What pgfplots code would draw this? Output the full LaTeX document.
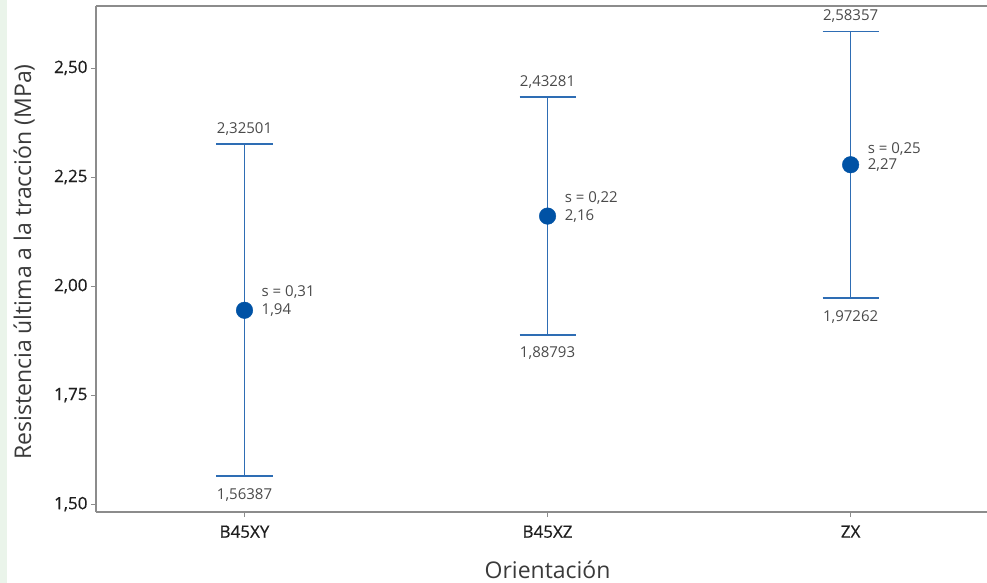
\documentclass[border=0pt]{standalone}
\usepackage{pgfplots}
\pgfplotsset{compat=1.18}
\usepackage{pgfplotstable}
\usepackage{fontspec}
\setmainfont{Open Sans}
\newfontfamily\tickfont{Open Sans}[FakeBold=0.6]
\definecolor{barblue}{HTML}{2E6DB4}
\definecolor{ptblue}{HTML}{0052A5}
\definecolor{axgray}{HTML}{8C8C8C}
\definecolor{anno}{HTML}{4A4A4A}
\definecolor{labgray}{HTML}{3A3A3A}
\definecolor{ticktxt}{HTML}{1E1E1E}
\definecolor{greenbg}{HTML}{EAF4EA}

% mean and 95% interval limits
\pgfplotstableread{
x mean lo hi
0 1.94444 1.56387 2.32501
1 2.16037 1.88793 2.43281
2 2.278095 1.97262 2.58357
}\datatab

\begin{document}
\begin{tikzpicture}
\begin{axis}[
  scale only axis,
  width=891bp, height=506bp,
  xmin=-0.49, xmax=2.45,
  ymin=1.482, ymax=2.642,
  axis x line=box, axis y line=left,
  axis line style={-, axgray, line width=1.1bp},
  tick pos=left, tick align=outside,
  major tick length=5bp,
  tick style={axgray, line width=0.8bp},
  xtick={0,1,2},
  xticklabels={B45XY,B45XZ,ZX},
  ytick={1.50,1.75,2.00,2.25,2.50},
  yticklabel style={/pgf/number format/.cd, fixed, fixed zerofill, precision=2, use comma, assume math mode=true},
  ticklabel style={font=\tickfont\fontsize{17bp}{19bp}\selectfont, text=ticktxt},
  xticklabel style={yshift=-5bp},
  xlabel={Orientación},
  ylabel={Resistencia última a la tracción (MPa)},
  label style={font=\fontsize{23bp}{26bp}\selectfont, text=labgray},
  xlabel style={at={(axis description cs:0.5068,-0.1146)}, anchor=center},
  ylabel style={at={(axis description cs:-0.0808,0.494)}, anchor=center},
  clip=false,
]
% interval lines
\addplot[barblue, line width=1.6bp, forget plot] coordinates {(0,1.56387) (0,2.32501)};
\addplot[barblue, line width=1.6bp, forget plot] coordinates {(1,1.88793) (1,2.43281)};
\addplot[barblue, line width=1.6bp, forget plot] coordinates {(2,1.97262) (2,2.58357)};
% caps
\addplot[barblue, line width=1.6bp, forget plot] coordinates {(-0.0924,2.32501) (0.0924,2.32501)};
\addplot[barblue, line width=1.6bp, forget plot] coordinates {(-0.0924,1.56387) (0.0924,1.56387)};
\addplot[barblue, line width=1.6bp, forget plot] coordinates {(0.9076,2.43281) (1.0924,2.43281)};
\addplot[barblue, line width=1.6bp, forget plot] coordinates {(0.9076,1.88793) (1.0924,1.88793)};
\addplot[barblue, line width=1.6bp, forget plot] coordinates {(1.9076,2.58357) (2.0924,2.58357)};
\addplot[barblue, line width=1.6bp, forget plot] coordinates {(1.9076,1.97262) (2.0924,1.97262)};
% means
\addplot[only marks, mark=*, mark size=8.3bp, mark options={fill=ptblue, draw=ptblue}] table[x=x, y=mean] {\datatab};

\begin{scope}[every node/.style={font=\fontsize{15bp}{17bp}\selectfont, text=anno, inner sep=1bp}]
\node[anchor=south, yshift=8bp] at (axis cs:0,2.32501) {2,32501};
\node[anchor=north, yshift=-11bp] at (axis cs:0,1.56387) {1,56387};
\node[anchor=west, xshift=16bp] at (axis cs:0,1.94444) {1,94};
\node[anchor=west, xshift=16bp, yshift=18bp] at (axis cs:0,1.94444) {s = 0,31};

\node[anchor=south, yshift=8bp] at (axis cs:1,2.43281) {2,43281};
\node[anchor=north, yshift=-11bp] at (axis cs:1,1.88793) {1,88793};
\node[anchor=west, xshift=16bp] at (axis cs:1,2.16037) {2,16};
\node[anchor=west, xshift=16bp, yshift=18bp] at (axis cs:1,2.16037) {s = 0,22};

\node[anchor=south, yshift=8bp] at (axis cs:2,2.58357) {2,58357};
\node[anchor=north, yshift=-11bp] at (axis cs:2,1.97262) {1,97262};
\node[anchor=west, xshift=16bp] at (axis cs:2,2.278095) {2,27};
\node[anchor=west, xshift=16bp, yshift=16bp] at (axis cs:2,2.278095) {s = 0,25};
\end{scope}

\coordinate (BL) at (rel axis cs:0,0);
\coordinate (TR) at (rel axis cs:1,1);
\end{axis}
\fill[greenbg] (BL) ++(-96bp,-71bp) rectangle ++(7bp,583bp);
\pgfresetboundingbox
\path ([xshift=-96bp,yshift=-71bp]BL) rectangle ([yshift=6bp]TR);
\end{tikzpicture}
\end{document}
